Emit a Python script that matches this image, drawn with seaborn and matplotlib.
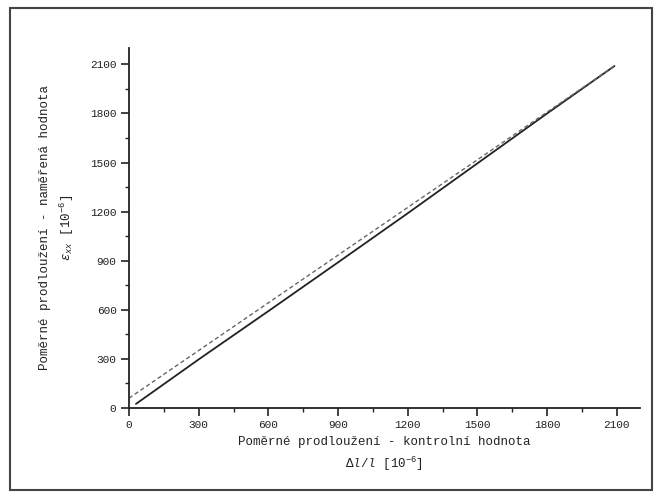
import matplotlib
matplotlib.use("Agg")
import matplotlib.pyplot as plt
from matplotlib.patches import Rectangle
from matplotlib.ticker import MultipleLocator
import seaborn as sns
import pandas as pd

# Measured strain vs. control strain (solid line)
control = [30, 300, 600, 900, 1200, 1500, 1800, 2090]
measured = [25, 297, 592, 890, 1190, 1495, 1800, 2090]
# Reference (dashed) line endpoints
ref_x = [0, 2090]
ref_y = [60, 2090]

xticks = [0, 300, 600, 900, 1200, 1500, 1800, 2100]
yticks = [0, 300, 600, 900, 1200, 1500, 1800, 2100]

sns.set_style("ticks")
plt.rcParams['font.family'] = ['Liberation Mono', 'DejaVu Sans Mono']
plt.rcParams['mathtext.fontset'] = 'custom'
plt.rcParams['mathtext.rm'] = 'Liberation Mono'
plt.rcParams['mathtext.it'] = 'Liberation Mono:italic'

fig = plt.figure(figsize=(6.62, 4.97), dpi=100)
ax = fig.add_axes([129/662, 1-408/497, (640-129)/662, (408-48)/497])

df_m = pd.DataFrame({"x": control, "y": measured})
df_r = pd.DataFrame({"x": ref_x, "y": ref_y})
sns.lineplot(data=df_m, x="x", y="y", ax=ax, color="#222222", lw=1.3, sort=False)
sns.lineplot(data=df_r, x="x", y="y", ax=ax, color="#666666", lw=1.0,
             linestyle=(0, (3, 2)), sort=False)

ax.set_xlim(0, 2200)
ax.set_ylim(0, 2200)
ax.set_xticks(xticks)
ax.set_yticks(yticks)
ax.set_xticklabels([str(t) for t in xticks])
ax.set_yticklabels([str(t) for t in yticks])
ax.xaxis.set_minor_locator(MultipleLocator(150))
ax.yaxis.set_minor_locator(MultipleLocator(150))
ax.tick_params(which='major', direction='out', length=6, width=1.2,
               labelsize=8, colors='#222222', pad=3)
ax.tick_params(which='minor', direction='out', length=3, width=1.0, colors='#222222')
for s in ['top', 'right']:
    ax.spines[s].set_visible(False)
for s in ['left', 'bottom']:
    ax.spines[s].set_linewidth(1.3)
    ax.spines[s].set_color('#222222')

ax.set_xlabel("Poměrné prodloužení - kontrolní hodnota\n"
              r"$\it{\Delta l/l}$ [10$^{-6}$]", fontsize=9, labelpad=4,
              linespacing=1.5, color='#222222')
ax.set_ylabel("Poměrné prodloužení - naměřená hodnota\n"
              r"$\varepsilon_{\it{xx}}$ [10$^{-6}$]", fontsize=9, labelpad=10,
              linespacing=1.5, color='#222222')

fig.patches.append(Rectangle((10/662, 1-490/497), (652-10)/662, (490-8)/497,
                             transform=fig.transFigure, fill=False,
                             edgecolor='#444444', lw=1.5))

fig.savefig("out.png", dpi=100)
